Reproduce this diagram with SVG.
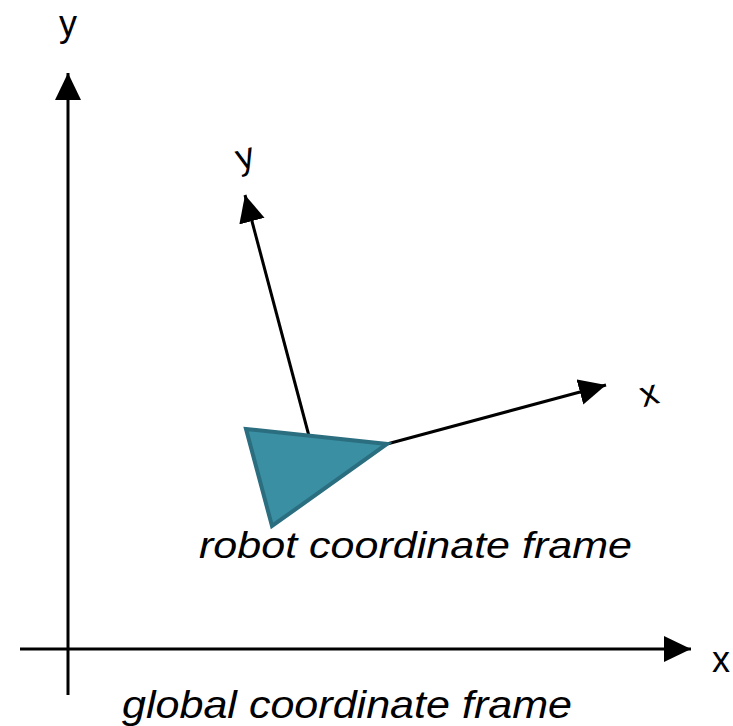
<svg xmlns="http://www.w3.org/2000/svg" width="733" height="726" viewBox="0 0 733 726">
<style>
.ax{stroke:#000;stroke-width:3;fill:none}
.lbl{font-family:"Liberation Sans",Arial,sans-serif;font-size:36px;fill:#000}
.cap{font-family:"Liberation Sans",Arial,sans-serif;font-style:italic;fill:#000}
</style>
<defs>
<marker id="ah" markerUnits="userSpaceOnUse" markerWidth="30" markerHeight="28" refX="27" refY="13" orient="auto">
<path d="M0,0 L27,13 L0,26 Z" fill="#000"/>
</marker>
</defs>
<rect width="733" height="726" fill="#fff"/>
<g id="connectors">
<line class="ax" x1="68" y1="695" x2="68" y2="73" marker-end="url(#ah)"/>
<line class="ax" x1="20" y1="649" x2="691" y2="649" marker-end="url(#ah)"/>
<line class="ax" x1="309" y1="436" x2="245" y2="195" marker-end="url(#ah)"/>
<line class="ax" x1="387" y1="444" x2="606" y2="385" marker-end="url(#ah)"/>
</g>
<g id="robot">
<polygon points="246,429 387,444 272,526" fill="#3a8fa3" stroke="#2a6e80" stroke-width="4" stroke-linejoin="miter"/>
</g>
<g id="labels">
<text class="lbl" x="68" y="36" text-anchor="middle">y</text>
<text class="lbl" x="721" y="672" text-anchor="middle">x</text>
<text class="lbl" x="0" y="0" text-anchor="middle" transform="translate(248,168) rotate(-15)">y</text>
<text class="lbl" x="0" y="0" text-anchor="middle" transform="translate(652,405) rotate(-15)">x</text>
<text class="cap" x="199" y="558" font-size="37" textLength="433" lengthAdjust="spacingAndGlyphs">robot coordinate frame</text>
<text class="cap" x="122" y="718" font-size="39" textLength="450" lengthAdjust="spacingAndGlyphs">global coordinate frame</text>
</g>
</svg>
